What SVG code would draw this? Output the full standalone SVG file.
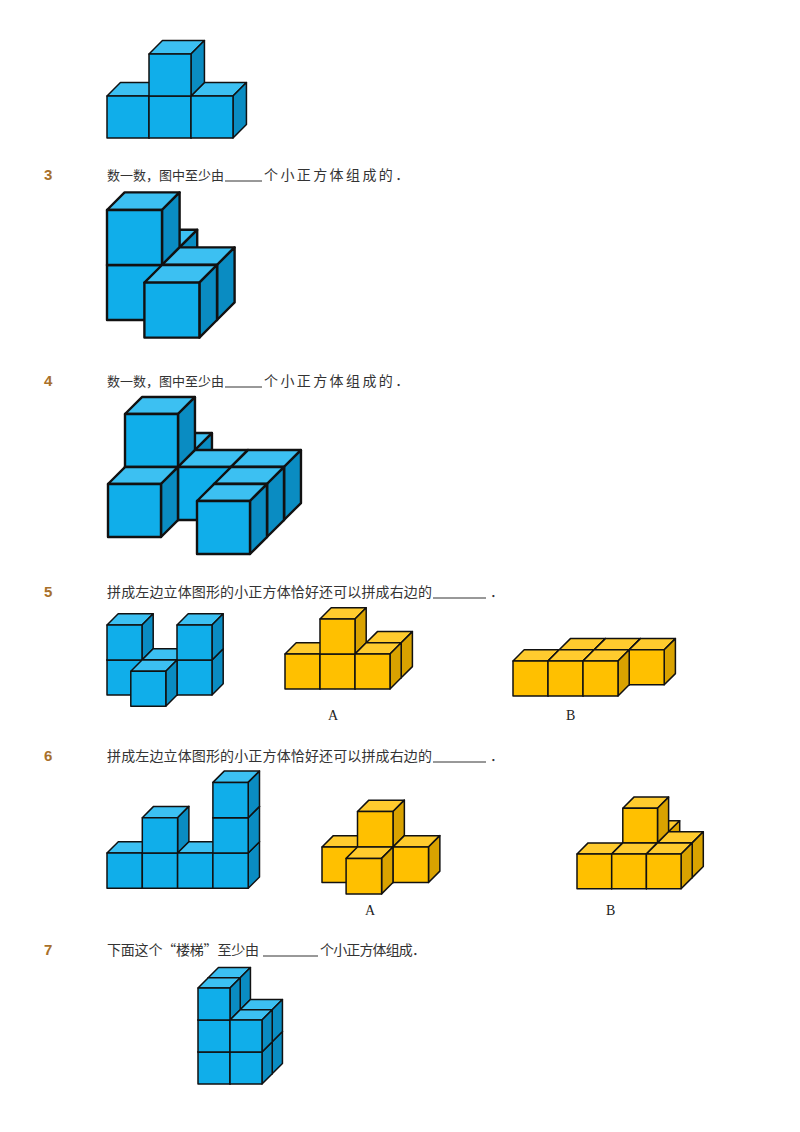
<svg xmlns="http://www.w3.org/2000/svg" xmlns:xlink="http://www.w3.org/1999/xlink" width="800" height="1132" viewBox="0 0 800 1132">
<style>
.n{font-family:"Liberation Sans",Arial,sans-serif;font-weight:bold;font-size:15px;fill:#A8702A}
.t{font-family:"Noto Sans CJK SC","Liberation Sans",sans-serif;font-size:14px;fill:#333}
.l{font-family:"Liberation Serif","Times New Roman",serif;font-size:14px;fill:#222}
.u{stroke:#333;stroke-width:1}
.k1{stroke:#111;stroke-width:1.5;stroke-linejoin:round}
.k2{stroke:#111;stroke-width:2.4;stroke-linejoin:round}
</style>
<defs>
<g id="cb">
<polygon points="0,0 0.32,-0.32 1.32,-0.32 1,0" fill="#3CC0F2" vector-effect="non-scaling-stroke"/>
<polygon points="1,0 1.32,-0.32 1.32,0.68 1,1" fill="#0A8CC2" vector-effect="non-scaling-stroke"/>
<rect x="0" y="0" width="1" height="1" fill="#10AEEA" vector-effect="non-scaling-stroke"/>
</g>
<g id="cy">
<polygon points="0,0 0.32,-0.32 1.32,-0.32 1,0" fill="#FFCB2E" vector-effect="non-scaling-stroke"/>
<polygon points="1,0 1.32,-0.32 1.32,0.68 1,1" fill="#D9A200" vector-effect="non-scaling-stroke"/>
<rect x="0" y="0" width="1" height="1" fill="#FFC000" vector-effect="non-scaling-stroke"/>
</g>
</defs>

<g id="fig1" class="k1">
<use href="#cb" transform="translate(107,96) scale(42)"/>
<use href="#cb" transform="translate(149,96) scale(42)"/>
<use href="#cb" transform="translate(191,96) scale(42)"/>
<use href="#cb" transform="translate(149,54) scale(42)"/>
</g>

<g id="q3">
<text class="n" x="44" y="180">3</text>
<text class="t" x="107" y="180" style="font-size:13px">数一数，图中至少由</text>
<line class="u" x1="225" y1="181" x2="262" y2="181"/>
<text class="t" x="264" y="180" letter-spacing="2.4">个小正方体组成的．</text>
</g>
<g id="fig3" class="k2">
<use href="#cb" transform="translate(124.6,247.4) scale(55)"/>
<use href="#cb" transform="translate(107,265) scale(55)"/>
<use href="#cb" transform="translate(107,210) scale(55)"/>
<use href="#cb" transform="translate(162,265) scale(55)"/>
<use href="#cb" transform="translate(144.4,282.6) scale(55)"/>
</g>

<g id="q4">
<text class="n" x="44" y="386">4</text>
<text class="t" x="107" y="386" style="font-size:13px">数一数，图中至少由</text>
<line class="u" x1="225" y1="387" x2="262" y2="387"/>
<text class="t" x="264" y="386" letter-spacing="2.4">个小正方体组成的．</text>
</g>
<g id="fig4" class="k2">
<use href="#cb" transform="translate(142,450) scale(53)"/>
<use href="#cb" transform="translate(125,467) scale(53)"/>
<use href="#cb" transform="translate(125,414) scale(53)"/>
<use href="#cb" transform="translate(178,467) scale(53)"/>
<use href="#cb" transform="translate(231,467) scale(53)"/>
<use href="#cb" transform="translate(108,484) scale(53)"/>
<use href="#cb" transform="translate(214,484) scale(53)"/>
<use href="#cb" transform="translate(197,501) scale(53)"/>
</g>

<g id="q5">
<text class="n" x="44" y="597">5</text>
<text class="t" x="107" y="597" textLength="325">拼成左边立体图形的小正方体恰好还可以拼成右边的</text>
<line class="u" x1="433" y1="598" x2="486" y2="598"/>
<text class="t" x="490" y="597">．</text>
</g>
<g id="fig5" class="k1">
<use href="#cb" transform="translate(107,660) scale(35)"/>
<use href="#cb" transform="translate(107,625) scale(35)"/>
<use href="#cb" transform="translate(142,660) scale(35)"/>
<use href="#cb" transform="translate(177,660) scale(35)"/>
<use href="#cb" transform="translate(177,625) scale(35)"/>
<use href="#cb" transform="translate(130.8,671.2) scale(35)"/>
</g>
<g id="fig5A" class="k1">
<use href="#cy" transform="translate(366.2,642.8) scale(35)"/>
<use href="#cy" transform="translate(285,654) scale(35)"/>
<use href="#cy" transform="translate(320,654) scale(35)"/>
<use href="#cy" transform="translate(320,619) scale(35)"/>
<use href="#cy" transform="translate(355,654) scale(35)"/>
<text class="l" x="328" y="720" stroke="none">A</text>
</g>
<g id="fig5B" class="k1">
<use href="#cy" transform="translate(559.2,649.8) scale(35)"/>
<use href="#cy" transform="translate(594.2,649.8) scale(35)"/>
<use href="#cy" transform="translate(629.2,649.8) scale(35)"/>
<use href="#cy" transform="translate(513,661) scale(35)"/>
<use href="#cy" transform="translate(548,661) scale(35)"/>
<use href="#cy" transform="translate(583,661) scale(35)"/>
<text class="l" x="566" y="720" stroke="none">B</text>
</g>

<g id="q6">
<text class="n" x="44" y="761">6</text>
<text class="t" x="107" y="761" textLength="325">拼成左边立体图形的小正方体恰好还可以拼成右边的</text>
<line class="u" x1="433" y1="762" x2="486" y2="762"/>
<text class="t" x="490" y="761">．</text>
</g>
<g id="fig6" class="k1">
<use href="#cb" transform="translate(107,853) scale(35.3)"/>
<use href="#cb" transform="translate(142.3,853) scale(35.3)"/>
<use href="#cb" transform="translate(142.3,817.7) scale(35.3)"/>
<use href="#cb" transform="translate(177.6,853) scale(35.3)"/>
<use href="#cb" transform="translate(212.9,853) scale(35.3)"/>
<use href="#cb" transform="translate(212.9,817.7) scale(35.3)"/>
<use href="#cb" transform="translate(212.9,782.4) scale(35.3)"/>
</g>
<g id="fig6A" class="k1">
<use href="#cy" transform="translate(322,847) scale(35.5)"/>
<use href="#cy" transform="translate(357.5,847) scale(35.5)"/>
<use href="#cy" transform="translate(357.5,811.5) scale(35.5)"/>
<use href="#cy" transform="translate(393,847) scale(35.5)"/>
<use href="#cy" transform="translate(346.1,858.4) scale(35.5)"/>
<text class="l" x="365" y="915" stroke="none">A</text>
</g>
<g id="fig6B" class="k1">
<use href="#cy" transform="translate(633.9,831.8) scale(34.7)"/>
<use href="#cy" transform="translate(622.8,842.9) scale(34.7)"/>
<use href="#cy" transform="translate(622.8,808.2) scale(34.7)"/>
<use href="#cy" transform="translate(657.5,842.9) scale(34.7)"/>
<use href="#cy" transform="translate(577,854) scale(34.7)"/>
<use href="#cy" transform="translate(611.7,854) scale(34.7)"/>
<use href="#cy" transform="translate(646.4,854) scale(34.7)"/>
<text class="l" x="606" y="915" stroke="none">B</text>
</g>

<g id="q7">
<text class="n" x="44" y="955">7</text>
<text class="t" x="107" y="955" textLength="152">下面这个“楼梯”至少由</text>
<line class="u" x1="263" y1="956" x2="318" y2="956"/>
<text class="t" x="320" y="955" textLength="106">个小正方体组成．</text>
</g>
<g id="fig7" class="k1">
<use href="#cb" transform="translate(208.2,1041.8) scale(32)"/>
<use href="#cb" transform="translate(208.2,1009.8) scale(32)"/>
<use href="#cb" transform="translate(208.2,977.8) scale(32)"/>
<use href="#cb" transform="translate(240.2,1041.8) scale(32)"/>
<use href="#cb" transform="translate(240.2,1009.8) scale(32)"/>
<use href="#cb" transform="translate(198,1052) scale(32)"/>
<use href="#cb" transform="translate(198,1020) scale(32)"/>
<use href="#cb" transform="translate(198,988) scale(32)"/>
<use href="#cb" transform="translate(230,1052) scale(32)"/>
<use href="#cb" transform="translate(230,1020) scale(32)"/>
</g>
</svg>
